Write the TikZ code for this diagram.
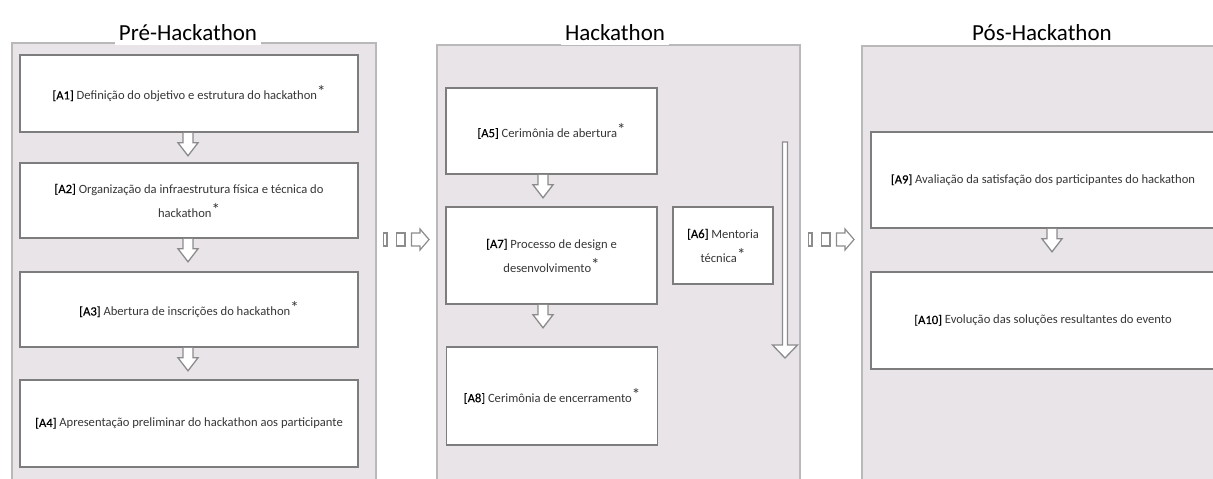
\documentclass[tikz,border=0pt]{standalone}
\usepackage{fontspec}
\setmainfont{Carlito}
\newfontface\labfont{Carlito}[FakeBold=0.5]
\usetikzlibrary{calc}

\definecolor{panelfill}{RGB}{232,228,232}
\definecolor{panelline}{RGB}{185,185,185}
\definecolor{boxline}{RGB}{125,125,125}
\definecolor{arrowline}{RGB}{140,140,140}
\definecolor{bodytext}{RGB}{55,55,55}

% activity tag and the raised asterisk that follows some activities
\newcommand\lab[1]{{\labfont\color{black}[#1]}}
\newcommand\astk{\raisebox{2pt}{\fontsize{17}{17}\selectfont *}}

\tikzset{
  panel/.style={draw=panelline, line width=1.5pt, fill=panelfill},
  phase/.style={font=\fontsize{23}{28}\selectfont, fill=white, anchor=base,
    inner xsep=4pt, inner ysep=0pt, text depth=5pt},
  stepbox/.style={draw=boxline, line width=1.6pt, fill=white, align=center,
    font=\fontsize{12.6}{24}\selectfont, text=bodytext, inner sep=4pt},
  hollow/.style={draw=arrowline, line width=1.3pt, fill=white, line join=miter},
  pics/dnarrow/.style={code={
    \draw[hollow] (-5,0) -- (-5,10) -- (-10,10) -- (0,23) -- (10,10) -- (5,10) -- (5,0);}},
  pics/flowmark/.style={code={
    \draw[hollow, line width=1.2pt] (0,-6.5) rectangle (3.5,6.5);
    \draw[hollow, line width=1.2pt] (13,-6.5) rectangle (21.5,6.5);
    \draw[hollow, line width=1.2pt] (28,-6.5) -- (36.5,-6.5) -- (36.5,-10.5) -- (45.5,0)
      -- (36.5,10.5) -- (36.5,6.5) -- (28,6.5) -- cycle;}},
}

\begin{document}
\begin{tikzpicture}[x=1pt, y=-1pt]
\path[use as bounding box] (0,0) rectangle (1213,479);
\clip (0,0) rectangle (1213,479);
\fill[white] (0,0) rectangle (1213,479);

% phase panels
\draw[panel] (12,43) rectangle (376,500);
\draw[panel] (437,45) rectangle (800,500);
\draw[panel] (862,46) rectangle (1230,500);

\node[phase] (t1) at (188,40) {Pré-Hackathon};
\node[phase] (t2) at (615,40) {Hackathon};
\node[phase] (t3) at (1042,40) {Pós-Hackathon};

% activities
\node[stepbox, minimum width=338pt, minimum height=77pt] (a1) at (189,93.5)
  {\lab{A1} Definição do objetivo e estrutura do hackathon\astk};
\node[stepbox, minimum width=338pt, minimum height=75pt] (a2) at (189,200.5)
  {\lab{A2} Organização da infraestrutura física e técnica do\\hackathon\astk};
\node[stepbox, minimum width=338pt, minimum height=75pt] (a3) at (189,309.5)
  {\lab{A3} Abertura de inscrições do hackathon\astk};
\node[stepbox, minimum width=338pt, minimum height=87pt] (a4) at (189,423.5)
  {\lab{A4} Apresentação preliminar do hackathon aos participante};

\node[stepbox, minimum width=211pt, minimum height=86pt] (a5) at (551.5,131)
  {\lab{A5} Cerimônia de abertura\astk};
\node[stepbox, minimum width=211pt, minimum height=97pt] (a7) at (551.5,255.5)
  {\lab{A7} Processo de design e\\desenvolvimento\astk};
\node[stepbox, minimum width=211pt, minimum height=98pt] (a8) at (552,396)
  {\lab{A8} Cerimônia de encerramento\astk};
\node[stepbox, minimum width=100pt, minimum height=77pt] (a6) at (723,245.5)
  {\lab{A6} Mentoria\\técnica\astk};

\node[stepbox, minimum width=344pt, minimum height=96pt] (a9) at (1043,180)
  {\lab{A9} Avaliação da satisfação dos participantes do hackathon};
\node[stepbox, minimum width=344pt, minimum height=97pt] (a10) at (1043,320.5)
  {\lab{A10} Evolução das soluções resultantes do evento};

% sequence arrows
\pic at ($(a1.south)+(-1,0)$) {dnarrow};
\pic at ($(a2.south)+(-1,0)$) {dnarrow};
\pic at ($(a3.south)+(-1,0)$) {dnarrow};
\pic at ($(a5.south)+(-8.5,0)$) {dnarrow};
\pic at ($(a7.south)+(-8.5,0)$) {dnarrow};
\pic at ($(a9.south)+(9,0)$) {dnarrow};

% mentoring runs alongside the whole event
\coordinate (m1) at (785,142);
\coordinate (m2) at (785,358);
\draw[hollow] ($(m1)+(-2.5,0)$) -- ($(m2)+(-2.5,-13)$) -- ($(m2)+(-12.5,-13)$) -- (m2)
  -- ($(m2)+(12.5,-13)$) -- ($(m2)+(2.5,-13)$) -- ($(m1)+(2.5,0)$) -- cycle;

% transitions between phases
\pic at (383.5,239.5) {flowmark};
\pic at (808.5,239.5) {flowmark};
\end{tikzpicture}
\end{document}
